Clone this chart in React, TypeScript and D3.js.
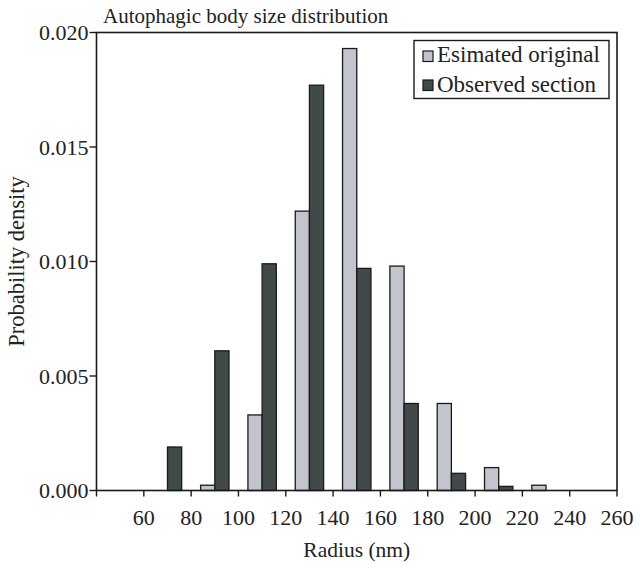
import React from "react";
import * as d3 from "d3";

const binCenters = [70, 90, 110, 130, 150, 170, 190, 210, 230];
const estimatedOriginal = [0, 0.00023, 0.0033, 0.0122, 0.0193, 0.0098, 0.0038, 0.001, 0.00023];
const observedSection = [0.0019, 0.0061, 0.0099, 0.0177, 0.0097, 0.0038, 0.00075, 0.00018, 0];
const xTicks = [40, 60, 80, 100, 120, 140, 160, 180, 200, 220, 240, 260];
const xTickLabels = ["", "60", "80", "100", "120", "140", "160", "180", "200", "220", "240", "260"];
const yTicks = [0, 0.005, 0.01, 0.015, 0.02];
const seriesNames = ["Esimated original", "Observed section"];
const seriesColors = ["#c2c5cb", "#414a48"];

const W = 640;
const H = 568;
const left = 96.5;
const right = 617;
const top = 32.5;
const bottom = 490.5;
const barWidthUnits = 6;
const font = "'Liberation Serif', 'Times New Roman', serif";

export default function App() {
  const x = d3.scaleLinear().domain([40, 260]).range([left, right]);
  const y = d3.scaleLinear().domain([0, 0.02]).range([bottom, top]);
  const bw = x(barWidthUnits) - x(0);
  const series = [estimatedOriginal, observedSection];

  return (
    <svg width={W} height={H} style={{ position: "absolute", left: 0, top: 0, background: "#fff" }} fontFamily={font}>
      <rect x={0} y={0} width={W} height={H} fill="#fff" />
      {series.map((vals, si) =>
        vals.map((v, i) =>
          v > 0 ? (
            <rect
              key={`${si}-${i}`}
              x={si === 0 ? x(binCenters[i]) - bw : x(binCenters[i])}
              y={y(v)}
              width={bw}
              height={y(0) - y(v)}
              fill={seriesColors[si]}
              stroke="#1a1a1a"
              strokeWidth={1.3}
            />
          ) : null
        )
      )}
      <rect x={left} y={top} width={right - left} height={bottom - top} fill="none" stroke="#1a1a1a" strokeWidth={1.6} />
      {yTicks.map((t) => (
        <g key={`y${t}`}>
          <line x1={left - 7} x2={left} y1={y(t)} y2={y(t)} stroke="#1a1a1a" strokeWidth={1.4} />
          <text x={left - 8} y={y(t)} dy="0.35em" textAnchor="end" fontSize={22} fill="#222">
            {d3.format(".3f")(t)}
          </text>
        </g>
      ))}
      {xTicks.map((t, i) => (
        <g key={`x${t}`}>
          <line x1={x(t)} x2={x(t)} y1={bottom} y2={bottom + 6} stroke="#1a1a1a" strokeWidth={1.4} />
          <text x={x(t)} y={bottom + 34} textAnchor="middle" fontSize={22} fill="#222">
            {xTickLabels[i]}
          </text>
        </g>
      ))}
      <text x={(left + right) / 2} y={557} textAnchor="middle" fontSize={21.5} fill="#222">
        Radius (nm)
      </text>
      <text transform={`translate(24,${(top + bottom) / 2}) rotate(-90)`} textAnchor="middle" fontSize={22.5} fill="#222">
        Probability density
      </text>
      <text x={103} y={23} fontSize={21} fill="#222">
        Autophagic body size distribution
      </text>
      <rect x={414} y={40.5} width={195} height={58} fill="#fff" stroke="#1a1a1a" strokeWidth={1.4} />
      {seriesNames.map((n, i) => (
        <g key={n}>
          <rect x={423} y={51 + i * 29} width={10} height={10.5} fill={seriesColors[i]} stroke="#1a1a1a" strokeWidth={1.2} />
          <text x={437} y={62 + i * 30} fontSize={23} fill="#222">
            {n}
          </text>
        </g>
      ))}
    </svg>
  );
}
